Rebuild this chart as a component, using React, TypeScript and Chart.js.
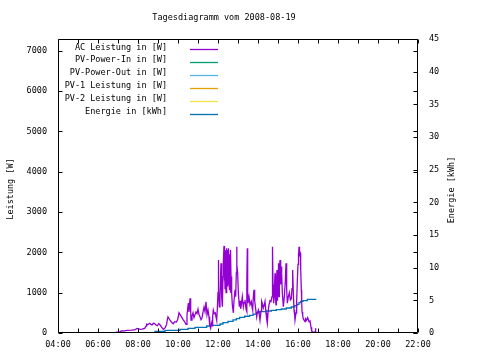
import React, { useEffect, useRef } from "react";
import { Chart, registerables } from "chart.js";

Chart.register(...registerables);

const titleText = "Tagesdiagramm vom 2008-08-19";
const leftAxisTitle = "Leistung [W]";
const rightAxisTitle = "Energie [kWh]";

const seriesLabels = [
  "AC Leistung in [W]",
  "PV-Power-In in [W]",
  "PV-Power-Out in [W]",
  "PV-1 Leistung in [W]",
  "PV-2 Leistung in [W]",
  "Energie in [kWh]",
];
const seriesColors = ["#9400d3", "#009e73", "#56b4e9", "#e69f00", "#f0e442", "#0072b2"];

const acTimes = [
  "06:54", "07:05", "07:10", "07:20", "07:27", "07:40", "07:50", "07:57", "08:02", "08:06",
  "08:12", "08:20", "08:24", "08:26", "08:30", "08:35", "08:38", "08:42", "08:46", "08:50",
  "08:54", "08:58", "09:02", "09:05", "09:08", "09:10", "09:13", "09:16", "09:19", "09:22",
  "09:26", "09:28", "09:30", "09:33", "09:36", "09:39", "09:42", "09:46", "09:50", "09:55",
  "09:59", "10:03", "10:06", "10:09", "10:12", "10:15", "10:18", "10:21", "10:24", "10:27",
  "10:29", "10:31", "10:33", "10:36", "10:38", "10:39", "10:42", "10:45", "10:48", "10:51",
  "10:54", "10:57", "11:00", "11:03", "11:06", "11:09", "11:12", "11:15", "11:18", "11:21",
  "11:24", "11:27", "11:30", "11:33", "11:35", "11:38", "11:40", "11:42", "11:44", "11:46",
  "11:49", "11:52", "11:54", "11:56", "11:58", "12:00", "12:01", "12:02", "12:04", "12:06",
  "12:08", "12:09", "12:11", "12:13", "12:15", "12:16", "12:18", "12:19", "12:20", "12:21",
  "12:22", "12:23", "12:24", "12:25", "12:26", "12:27", "12:28", "12:29", "12:30", "12:31",
  "12:32", "12:33", "12:34", "12:35", "12:36", "12:37", "12:38", "12:39", "12:41", "12:43",
  "12:46", "12:48", "12:51", "12:53", "12:55", "12:56", "12:57", "12:59", "13:01", "13:04",
  "13:06", "13:08", "13:10", "13:13", "13:16", "13:18", "13:21", "13:24", "13:26", "13:27",
  "13:28", "13:29", "13:30", "13:33", "13:36", "13:40", "13:42", "13:44", "13:46", "13:48",
  "13:50", "13:53", "13:56", "13:58", "14:01", "14:04", "14:06", "14:09", "14:11", "14:14",
  "14:16", "14:19", "14:21", "14:24", "14:26", "14:28", "14:30", "14:33", "14:36", "14:39",
  "14:42", "14:43", "14:44", "14:45", "14:47", "14:49", "14:51", "14:52", "14:54", "14:55",
  "14:57", "14:58", "14:59", "15:00", "15:01", "15:02", "15:03", "15:04", "15:06", "15:08",
  "15:09", "15:11", "15:13", "15:16", "15:19", "15:22", "15:24", "15:26", "15:28", "15:31",
  "15:34", "15:37", "15:40", "15:42", "15:44", "15:46", "15:48", "15:50", "15:51", "15:54",
  "15:56", "15:58", "16:00", "16:01", "16:02", "16:03", "16:04", "16:05", "16:07", "16:08",
  "16:10", "16:11", "16:12", "16:14", "16:15", "16:18", "16:21", "16:23", "16:26", "16:29",
  "16:33", "16:36", "16:39", "16:41", "16:43", "16:47", "16:51", "16:53",
];
const acPower = [
  20, 30, 50, 55, 66, 70, 75, 115, 100, 90,
  95, 115, 170, 220, 210, 240, 215, 200, 240, 235,
  200, 180, 230, 210, 180, 150, 120, 90, 110, 140,
  220, 330, 400, 360, 320, 290, 255, 230, 280, 270,
  330, 500, 460, 420, 380, 330, 300, 260, 215, 450,
  600, 740, 520, 860, 560, 320, 420, 500, 380, 450,
  520, 480, 590, 460, 400, 330, 380, 520, 640, 530,
  775, 450, 570, 400, 200, 120, 250, 180, 400, 570,
  480, 500, 400, 320, 600, 1000, 1810, 1100, 650, 900,
  1500, 1730, 900, 650, 1400, 1750, 2160, 1300, 1950, 1100,
  2050, 1890, 1000, 2100, 1070, 1900, 2060, 1150, 2000, 1200,
  2100, 1300, 1950, 1070, 1800, 1000, 2060, 1400, 985, 700,
  500, 800, 1070, 900, 1500, 2140, 1700, 1480, 1000, 650,
  800, 600, 700, 900, 650, 750, 820, 600, 530, 1300,
  2100, 1000, 740, 900, 700, 780, 650, 570, 900, 1070,
  800, 600, 400, 500, 570, 450, 320, 550, 780, 700,
  620, 700, 780, 500, 350, 240, 500, 700, 800, 780,
  900, 1600, 2140, 1200, 740, 1000, 1480, 900, 700, 1200,
  1560, 1000, 800, 1300, 1730, 1100, 900, 1500, 1810, 1200,
  1650, 1480, 1000, 650, 900, 1300, 1730, 1100, 740, 900,
  1000, 820, 850, 1100, 1560, 1000, 570, 450, 320, 500,
  780, 1300, 1700, 1980, 1850, 2140, 1900, 2050, 1980, 1600,
  1070, 800, 530, 450, 370, 330, 280, 350, 320, 380,
  280, 300, 140, 60, 30, 20, 30, 115,
];

const energyTimes = [
  "06:54", "08:51", "09:21", "10:06", "10:30", "10:51", "11:26", "11:36", "12:06", "12:15",
  "12:30", "12:45", "12:55", "13:05", "13:20", "13:35", "13:45", "13:55", "14:05", "14:25",
  "14:40", "14:55", "15:10", "15:25", "15:40", "15:50", "15:57", "16:03", "16:08", "16:15",
  "16:28", "16:55",
];
const energyKWh = [
  0.05, 0.25, 0.4, 0.56, 0.72, 0.87, 1.07, 1.17, 1.38, 1.58,
  1.79, 2.0, 2.2, 2.4, 2.56, 2.7, 2.9, 3.1, 3.26, 3.37,
  3.47, 3.57, 3.67, 3.83, 3.98, 4.18, 4.39, 4.64, 4.85, 4.95,
  5.15, 5.15,
];

const xMin = 4;
const xMax = 22;
const yMax = 7290;
const y2Max = 45;
const yTickValues = [0, 1000, 2000, 3000, 4000, 5000, 6000, 7000];

const FONT = "DejaVu Sans Mono";

function toHours(t: string): number {
  const [h, m] = t.split(":").map(Number);
  return h + m / 60;
}

function fmtHour(v: number): string {
  const h = Math.round(v);
  return (h < 10 ? "0" : "") + h + ":00";
}

const gnuplotDecor = {
  id: "gnuplotDecor",
  afterDraw(chart: any) {
    const ctx = chart.ctx as CanvasRenderingContext2D;
    const a = chart.chartArea;
    const xs = chart.scales.x;
    const ys = chart.scales.y;
    const y2s = chart.scales.y2;
    ctx.save();
    ctx.strokeStyle = "#000";
    ctx.lineWidth = 1;
    const L = Math.round(a.left) + 0.5;
    const R = Math.round(a.right) - 0.5;
    const T = Math.round(a.top) + 0.5;
    const B = Math.round(a.bottom) - 0.5;
    ctx.beginPath();
    ctx.rect(L, T, R - L, B - T);
    ctx.stroke();
    const tl = 4;
    ctx.beginPath();
    for (let h = xMin; h <= xMax; h += 1) {
      const x = Math.round(xs.getPixelForValue(h)) + 0.5;
      ctx.moveTo(x, B);
      ctx.lineTo(x, B - tl);
      ctx.moveTo(x, T);
      ctx.lineTo(x, T + tl);
    }
    for (const v of yTickValues) {
      const y = Math.round(ys.getPixelForValue(v)) + 0.5;
      ctx.moveTo(L, y);
      ctx.lineTo(L + tl, y);
      ctx.moveTo(R, y);
      ctx.lineTo(R - tl, y);
    }
    for (let v = 0; v <= y2Max; v += 5) {
      const y = Math.round(y2s.getPixelForValue(v)) + 0.5;
      ctx.moveTo(R, y);
      ctx.lineTo(R - tl, y);
    }
    ctx.stroke();

    ctx.fillStyle = "#000";
    ctx.font = `8.5px "${FONT}"`;
    ctx.textBaseline = "middle";
    ctx.textAlign = "center";
    ctx.fillText(titleText, 224, 18);

    ctx.save();
    ctx.translate(11, 189);
    ctx.rotate(-Math.PI / 2);
    ctx.fillText(leftAxisTitle, 0, 0);
    ctx.restore();
    ctx.save();
    ctx.translate(452, 190);
    ctx.rotate(-Math.PI / 2);
    ctx.fillText(rightAxisTitle, 0, 0);
    ctx.restore();

    const ds = chart.data.datasets;
    for (let i = 0; i < ds.length; i++) {
      const y = 49.3 + i * 12.95;
      ctx.textAlign = "right";
      ctx.fillStyle = "#000";
      ctx.fillText(ds[i].label, 167, y - 2);
      ctx.strokeStyle = ds[i].borderColor;
      ctx.lineWidth = 1.3;
      ctx.beginPath();
      ctx.moveTo(190, Math.round(y) + 0.5);
      ctx.lineTo(218, Math.round(y) + 0.5);
      ctx.stroke();
    }
    ctx.restore();
  },
};

export default function App() {
  const ref = useRef<HTMLCanvasElement | null>(null);
  useEffect(() => {
    if (!ref.current) return;
    const acData = acTimes.map((t, i) => ({ x: toHours(t), y: acPower[i] }));
    const enData = energyTimes.map((t, i) => ({ x: toHours(t), y: energyKWh[i] }));
    const datasets: any[] = seriesLabels.map((label, i) => ({
      label,
      data: i === 0 ? acData : i === 5 ? enData : [],
      borderColor: seriesColors[i],
      backgroundColor: seriesColors[i],
      borderWidth: 1.3,
      pointRadius: 0,
      fill: false,
      tension: 0,
      yAxisID: i === 5 ? "y2" : "y",
      stepped: i === 5 ? "before" : false,
    }));
    const tickFont = { family: FONT, size: 8.5 };
    const chart = new Chart(ref.current, {
      type: "line",
      data: { datasets },
      plugins: [gnuplotDecor],
      options: {
        responsive: false,
        animation: false,
        devicePixelRatio: 1,
        layout: { padding: { top: 39, left: 0, right: 0, bottom: 0 } },
        plugins: { legend: { display: false }, title: { display: false }, tooltip: { enabled: false } },
        scales: {
          x: {
            type: "linear",
            min: xMin,
            max: xMax,
            grid: { display: false, drawTicks: false, tickLength: 0 },
            border: { display: false },
            ticks: {
              stepSize: 2,
              color: "#000",
              font: tickFont,
              padding: 7,
              maxRotation: 0,
              autoSkip: false,
              callback: (v: any) => fmtHour(Number(v)),
            },
            afterFit: (s: any) => { s.height = 27; },
          },
          y: {
            type: "linear",
            position: "left",
            min: 0,
            max: yMax,
            grid: { display: false, drawTicks: false, tickLength: 0 },
            border: { display: false },
            ticks: {
              color: "#000",
              font: tickFont,
              padding: 11,
              autoSkip: false,
              callback: (v: any) => String(v),
            },
            afterBuildTicks: (s: any) => { s.ticks = yTickValues.map((v) => ({ value: v })); },
            afterFit: (s: any) => { s.width = 58; },
          },
          y2: {
            type: "linear",
            position: "right",
            min: 0,
            max: y2Max,
            grid: { display: false, drawTicks: false, tickLength: 0 },
            border: { display: false },
            ticks: { stepSize: 5, color: "#000", font: tickFont, padding: 11 },
            afterFit: (s: any) => { s.width = 62; },
          },
        },
      } as any,
    });
    return () => chart.destroy();
  }, []);
  return (
    <div style={{ position: "fixed", left: 0, top: 0, width: 480, height: 360, background: "#fff" }}>
      <canvas ref={ref} width={480} height={360} style={{ display: "block" }} />
    </div>
  );
}
